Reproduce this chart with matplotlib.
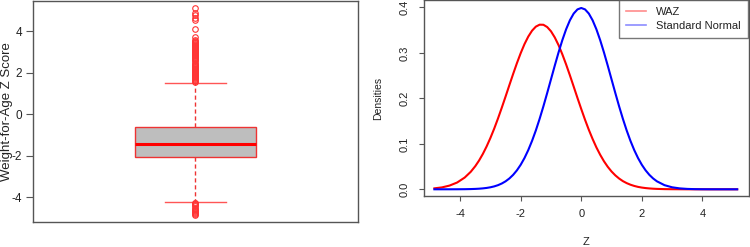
import matplotlib
matplotlib.use("Agg")
import matplotlib.pyplot as plt
from matplotlib.lines import Line2D

plt.rcParams['font.family'] = ['Liberation Sans', 'DejaVu Sans']

# ---- Box plot summary (Weight-for-Age Z score) ----
waz_median = -1.41
waz_q1 = -2.06
waz_q3 = -0.62
waz_whisker_low = -4.23
waz_whisker_high = 1.53
waz_fliers_high = [1.55, 1.6, 1.65, 1.7, 1.75, 1.8, 1.85, 1.9, 1.95, 2.0, 2.05, 2.1,
                   2.15, 2.2, 2.25, 2.3, 2.35, 2.4, 2.45, 2.5, 2.55, 2.6, 2.65, 2.7,
                   2.75, 2.8, 2.85, 2.9, 2.95, 3.0, 3.05, 3.1, 3.15, 3.2, 3.25, 3.3,
                   3.35, 3.4, 3.45, 3.5, 3.55, 3.59, 3.72, 4.11, 4.56, 4.64, 4.8,
                   4.91, 5.12]
waz_fliers_low = [-4.27, -4.3, -4.35, -4.4, -4.45, -4.5, -4.55, -4.6, -4.65,
                  -4.7, -4.75, -4.8, -4.85]
box_yticks = [-4, -2, 0, 2, 4]
box_ylabel = "Weight-for-Age Z Score"

# ---- Density curves ----
z_values = [-4.85, -4.6, -4.35, -4.1, -3.85, -3.65,
            -3.5, -3.375, -3.25, -3.125, -3.0, -2.875, -2.75, -2.625, -2.5, -2.375,
            -2.25, -2.125, -2.0, -1.875, -1.75, -1.625, -1.5, -1.375, -1.25, -1.125,
            -1.0, -0.875, -0.75, -0.625, -0.5, -0.375, -0.25, -0.125, 0.0, 0.125,
            0.25, 0.375, 0.5, 0.625, 0.75, 0.875, 1.0, 1.125, 1.25, 1.375, 1.5,
            1.625, 1.75, 1.875, 2.0, 2.125, 2.25, 2.375, 2.5,
            2.75, 3.0, 3.25, 3.5, 3.75, 4.0, 4.25, 4.5, 4.75, 5.0, 5.15]
waz_density = [0.0021, 0.0042, 0.0082, 0.0149, 0.0258, 0.0385,
               0.0509, 0.0633, 0.0778, 0.0944, 0.1130, 0.1335, 0.1558, 0.1795, 0.2040,
               0.2290, 0.2537, 0.2775, 0.2996, 0.3194, 0.3360, 0.3490, 0.3579, 0.3622,
               0.3620, 0.3570, 0.3477, 0.3342, 0.3172, 0.2970, 0.2747, 0.2508, 0.2260,
               0.2010, 0.1766, 0.1530, 0.1309, 0.1107, 0.0922, 0.0760, 0.0617, 0.0495,
               0.0392, 0.0307, 0.0237, 0.0180, 0.0136, 0.0101, 0.0074, 0.0053, 0.0038,
               0.0027, 0.0019, 0.0013, 0.0009,
               0.0004, 0.0002, 0.0001, 0.0, 0.0, 0.0, 0.0, 0.0, 0.0, 0.0, 0.0]
normal_density = [0.0, 0.00001, 0.00003, 0.00009, 0.00024, 0.00052,
                  0.00087, 0.00134, 0.00203, 0.00302, 0.00443, 0.00639, 0.00909,
                  0.01273, 0.01753, 0.02378, 0.03174, 0.04173, 0.05399, 0.06879,
                  0.08628, 0.10657, 0.12952, 0.15504, 0.18265, 0.21188, 0.24197,
                  0.27207, 0.30114, 0.32817, 0.35207, 0.37186, 0.38667, 0.39583,
                  0.39894, 0.39583, 0.38667, 0.37186, 0.35207, 0.32817, 0.30114,
                  0.27207, 0.24197, 0.21188, 0.18265, 0.15504, 0.12952, 0.10657,
                  0.08628, 0.06879, 0.05399, 0.04173, 0.03174, 0.02378, 0.01753,
                  0.00909, 0.00443, 0.00203, 0.00087, 0.00035, 0.00013, 0.00005,
                  0.00002, 0.00001, 0.0, 0.0]
dens_xticks = [-4, -2, 0, 2, 4]
dens_yticks = [0.0, 0.1, 0.2, 0.3, 0.4]
legend_labels = ["WAZ", "Standard Normal"]

W, H = 750, 247
fig = plt.figure(figsize=(W / 100, H / 100), dpi=100)
frame_col = '#555555'
txt_col = '#222222'

# ---------- Left: boxplot ----------
ax1 = fig.add_axes([33 / W, (H - 222) / H, 325 / W, 221 / H])
stats = [dict(med=waz_median, q1=waz_q1, q3=waz_q3,
              whislo=waz_whisker_low, whishi=waz_whisker_high,
              fliers=waz_fliers_high + waz_fliers_low)]
ax1.bxp(stats, positions=[1], widths=0.4, capwidths=0.2, patch_artist=True,
        boxprops=dict(facecolor='#bebebe', edgecolor='#ee3333', linewidth=1.0),
        medianprops=dict(color='#ff0000', linewidth=2.2),
        whiskerprops=dict(color='#ee3333', linewidth=1.0, linestyle=(0, (3, 2))),
        capprops=dict(color='#ff5555', linewidth=1.0),
        flierprops=dict(marker='o', markerfacecolor='none', markeredgecolor='#ff3333',
                        markersize=4, markeredgewidth=0.8))
ax1.set_xlim(0.46, 1.54)
ax1.set_ylim(-5.20, 5.47)
ax1.set_xticks([])
ax1.set_yticks(box_yticks)
ax1.set_yticklabels([str(t) for t in box_yticks])
ax1.tick_params(axis='y', length=5, width=0.8, color=frame_col, labelsize=8.5,
                labelcolor=txt_col, pad=3)
fig.text(7.5 / W, 1 - 112 / H, box_ylabel, rotation=90, ha='center', va='center',
         fontsize=9.5, color=txt_col)
for s in ax1.spines.values():
    s.set_color(frame_col)
    s.set_linewidth(1.0)

# ---------- Right: densities ----------
ax2 = fig.add_axes([423.5 / W, (H - 196.3) / H, 325.5 / W, 196.3 / H])
ax2.plot(z_values, waz_density, color='#ff0000', linewidth=1.5)
ax2.plot(z_values, normal_density, color='#0000ff', linewidth=1.5)
ax2.set_xlim(-5.21, 5.54)
ax2.set_ylim(-0.0154, 0.4165)
ax2.set_xticks(dens_xticks)
ax2.set_xticklabels([str(t) for t in dens_xticks])
ax2.set_yticks(dens_yticks)
ax2.set_yticklabels([f"{t:.1f}" for t in dens_yticks], rotation=90, va='center')
ax2.tick_params(axis='both', length=3.8, width=0.8, color=frame_col, labelsize=8,
                labelcolor=txt_col)
ax2.tick_params(axis='x', pad=5.4)
ax2.tick_params(axis='y', pad=6.5)
fig.text(585.7 / W, 1 - 242 / H, "Z", ha='center', va='center',
         fontsize=8, color=txt_col)
fig.text(378.5 / W, 1 - 98 / H, "Densities", rotation=90, ha='center', va='center',
         fontsize=7.5, color=txt_col)
for s in ax2.spines.values():
    s.set_color(frame_col)
    s.set_linewidth(1.0)

handles = [Line2D([], [], color='#ff0000', alpha=0.45, linewidth=1.2),
           Line2D([], [], color='#0000ff', alpha=0.45, linewidth=1.2)]
leg = ax2.legend(handles, legend_labels, loc='upper right',
                 bbox_to_anchor=(0.997, 1.0), borderaxespad=0, fontsize=8,
                 frameon=True, fancybox=False, handlelength=1.8,
                 handletextpad=0.9, labelspacing=0.35, borderpad=0.65)
leg.get_frame().set_edgecolor(frame_col)
leg.get_frame().set_linewidth(1.0)
for t in leg.get_texts():
    t.set_color(txt_col)

fig.savefig("out.png", dpi=100)
